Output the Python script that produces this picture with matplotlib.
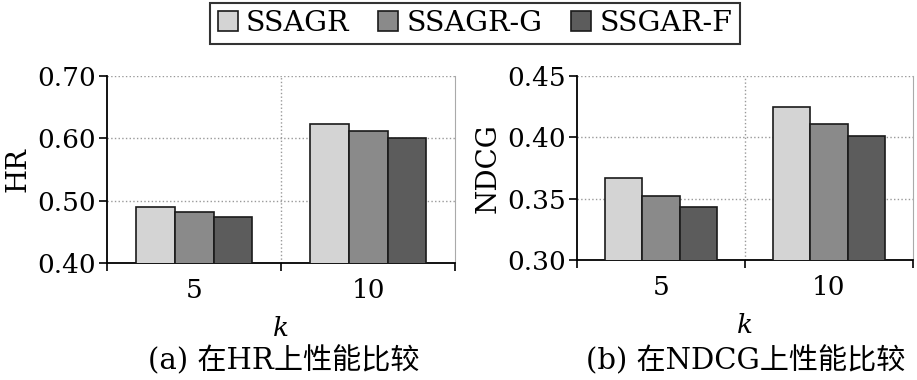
import numpy as np
import matplotlib
matplotlib.use('Agg')
from matplotlib import pyplot as plt
from matplotlib.patches import Patch

# data
ks = ['5', '10']
methods = ['SSAGR', 'SSAGR-G', 'SSGAR-F']
hr = [[0.490, 0.623], [0.481, 0.611], [0.473, 0.601]]
ndcg = [[0.367, 0.425], [0.352, 0.411], [0.343, 0.401]]
colors = ['#d4d4d4', '#8a8a8a', '#5c5c5c']

serif = ['DejaVu Serif', 'Noto Sans CJK SC']
plt.rcParams['font.family'] = serif
plt.rcParams['font.size'] = 18

fig = plt.figure(figsize=(9.17, 3.8), dpi=100)
ax1 = fig.add_axes([0.1167, 0.308, 0.3795, 0.492])
ax2 = fig.add_axes([0.6292, 0.316, 0.3664, 0.484])

def draw(ax, vals, ylim, yticks, ylabel, caption, capx):
    x = np.arange(len(ks))
    w = 0.224
    for i, m in enumerate(methods):
        ax.bar(x + (i - 1) * w, vals[i], w, color=colors[i], edgecolor='#1a1a1a',
               linewidth=1.2, label=m, zorder=3)
    ax.set_xlim(-0.5, 1.5)
    ax.set_ylim(*ylim)
    ax.set_yticks(yticks)
    ax.set_yticklabels(['%.2f' % t for t in yticks])
    ax.set_xticks([-0.5, 0.5, 1.5])
    ax.set_xticklabels([])
    ax.set_xticks(x, minor=True)
    ax.set_xticklabels(ks, minor=True)
    ax.tick_params(axis='x', which='minor', length=0, pad=11, labelsize=19)
    ax.tick_params(axis='x', which='major', length=6, width=1.2, direction='out')
    ax.tick_params(axis='y', length=6, width=1.2, direction='out', pad=2, labelsize=19)
    for yt in yticks[1:]:
        ax.axhline(yt, color='#999999', linestyle=':', linewidth=1, zorder=1)
    ax.axvline(0.5, color='#999999', linestyle=':', linewidth=1, zorder=1)
    ax.spines['top'].set_visible(False)
    ax.spines['right'].set_color('#aaaaaa')
    ax.spines['left'].set_linewidth(1.3)
    ax.spines['bottom'].set_linewidth(1.3)
    ax.set_ylabel(ylabel, fontsize=20, labelpad=4)
    ax.set_xlabel('k', style='italic', fontsize=19, labelpad=9)
    fig.text(capx, 0.052, caption, ha='center', va='center', fontsize=21, family=serif)

draw(ax1, hr, (0.40, 0.70), [0.40, 0.50, 0.60, 0.70], 'HR', '(a) 在HR上性能比较', 284 / 917)
draw(ax2, ndcg, (0.30, 0.45), [0.30, 0.35, 0.40, 0.45], 'NDCG', '(b) 在NDCG上性能比较', 746 / 917)

handles = [Patch(facecolor=c, edgecolor='#1a1a1a', linewidth=1.2) for c in colors]
leg = fig.legend(handles, methods, loc='center', bbox_to_anchor=(0.518, 0.939), ncol=3,
                 frameon=True, fancybox=False, edgecolor='black', fontsize=20.5,
                 handlelength=0.7, handleheight=0.7, handletextpad=0.3,
                 columnspacing=1.0, borderpad=0.25)
leg.get_frame().set_linewidth(1.5)

fig.savefig('out.png', dpi=100)
